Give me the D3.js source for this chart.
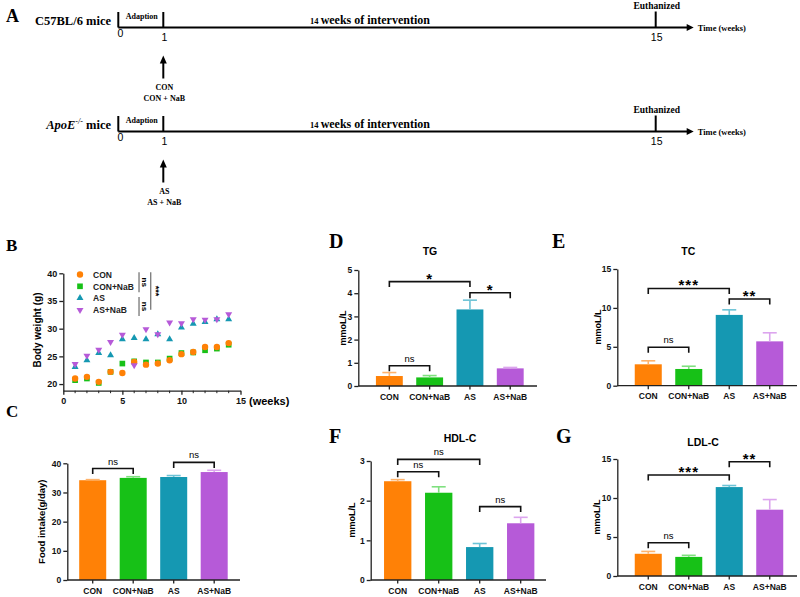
<!DOCTYPE html>
<html>
<head>
<meta charset="utf-8">
<script src="https://cdn.jsdelivr.net/npm/d3@7"></script>
<style>
  body { margin: 0; background: #fff; }
  svg { display: block; }
  .serif { font-family: "Liberation Serif", "Times New Roman", serif; font-weight: bold; }
  .sans { font-family: "Liberation Sans", Arial, sans-serif; }
</style>
</head>
<body>
<div id="main"></div>
<script>
// ---- data ----
const groups = ["CON", "CON+NaB", "AS", "AS+NaB"];
const groupColors = ["#FF8106", "#17C117", "#1598B2", "#B65AD8"];
const errColors = ["#FFB36B", "#7FE07F", "#6CC3D6", "#DCA5EE"];

const weeks = [1, 2, 3, 4, 5, 6, 7, 8, 9, 10, 11, 12, 13, 14];
const conWeight    = [21.0, 21.3, 20.4, 22.2, 22.0, 24.0, 23.5, 23.7, 24.3, 25.4, 25.8, 26.7, 26.7, 27.4];
const conNabWeight = [20.7, 21.0, 20.2, 22.2, 23.7, 24.1, 23.9, 23.9, 24.6, 25.6, 25.7, 26.1, 26.4, 27.1];
const asWeight     = [23.1, 24.3, 25.6, 25.2, 28.1, 28.3, 28.1, 29.0, 28.1, 30.2, 30.9, 31.2, 31.7, 31.7];
const asNabWeight  = [23.6, 25.1, 26.2, 27.6, 28.9, 23.4, 29.9, 29.0, 31.1, 31.0, 31.7, 31.6, 31.7, 32.6];

const foodMean = [34.2, 35.0, 35.3, 37.0];
const foodErr  = [0.2, 0.4, 0.5, 0.6];
const tgMean   = [0.43, 0.37, 3.3, 0.76];
const tgErr    = [0.15, 0.08, 0.4, 0.04];
const tcMean   = [2.75, 2.15, 9.1, 5.7];
const tcErr    = [0.45, 0.35, 0.65, 1.1];
const hdlMean  = [2.49, 2.2, 0.83, 1.43];
const hdlErr   = [0.04, 0.15, 0.09, 0.15];
const ldlMean  = [2.85, 2.45, 11.4, 8.5];
const ldlErr   = [0.3, 0.2, 0.2, 1.3];

// significance brackets: [from, to, level, label]
const foodSig = [[0, 1, 38.2, "ns"], [2, 3, 40.3, "ns"]];
const tgSig   = [[0, 2, 4.5, "*"], [2, 3, 4.02, "*"], [0, 1, 0.87, "ns"]];
const tcSig   = [[0, 2, 12.5, "***"], [2, 3, 11.15, "**"], [0, 1, 4.94, "ns"]];
const hdlSig  = [[0, 2, 3.04, "ns"], [0, 1, 2.73, "ns"], [2, 3, 1.85, "ns"]];
const ldlSig  = [[0, 2, 12.95, "***"], [2, 3, 14.65, "**"], [0, 1, 4.27, "ns"]];

const timelineWeeks = [0, 1, 15];

const svg = d3.select("#main").append("svg")
  .attr("width", 800).attr("height", 597)
  .style("background", "#fff");

// ---- panel letters ----
const letters = [["A", 6, 22, 18], ["B", 6, 251, 17], ["C", 6, 417, 17],
  ["D", 329, 248, 20], ["E", 552, 248, 20], ["F", 329, 443, 20], ["G", 556, 443, 20]];
svg.selectAll("text.letter").data(letters).join("text")
  .attr("class", "letter serif")
  .attr("x", d => d[1]).attr("y", d => d[2])
  .style("font-size", d => d[3] + "px")
  .text(d => d[0]);

// ---- A: timelines ----
const tx = d3.scaleLinear().domain([0, 1, 15]).range([118.3, 163.3, 655.7]);

function timeline(y0, name, italicPart, arrowLabels) {
  const g = svg.append("g");
  const lab = g.append("text").attr("class", "serif").attr("x", 111).attr("y", y0 - 3)
    .attr("text-anchor", "end").style("font-size", "12.5px");
  if (italicPart) {
    lab.append("tspan").style("font-style", "italic").text("ApoE");
    lab.append("tspan").attr("dy", -5).style("font-size", "8px").style("font-style", "italic")
      .style("font-weight", "normal").text("-/-");
    lab.append("tspan").attr("dy", 5).text(" mice");
  } else {
    lab.text(name);
  }
  g.append("line").attr("x1", tx(0)).attr("x2", tx(15) + 32).attr("y1", y0).attr("y2", y0)
    .attr("stroke", "#000").attr("stroke-width", 2);
  g.append("path")
    .attr("d", `M${tx(15) + 38},${y0} l-7,-3.5 l0,7 z`).attr("fill", "#000");
  g.selectAll("line.tk").data(timelineWeeks).join("line")
    .attr("x1", d => tx(d)).attr("x2", d => tx(d))
    .attr("y1", d => d === 15 ? y0 - 16 : y0 - 15.5).attr("y2", y0)
    .attr("stroke", "#000").attr("stroke-width", 2);
  g.selectAll("text.tn").data(timelineWeeks).join("text")
    .attr("class", "sans")
    .attr("x", d => d === 0 ? tx(d) + 2 : tx(d) + 1)
    .attr("y", d => d === 0 ? y0 + 9 : y0 + 13)
    .attr("text-anchor", "middle").style("font-size", "10.5px")
    .text(d => d);
  g.append("text").attr("class", "serif").attr("x", tx(0.5) + 1).attr("y", y0 - 8.5)
    .attr("text-anchor", "middle").style("font-size", "8px").text("Adaption");
  g.append("text").attr("class", "serif").attr("x", 310).attr("y", y0 - 4)
    .style("font-size", "12px")
    .call(t => {
      t.append("tspan").style("font-size", "8.5px").text("14 ");
      t.append("tspan").text(" weeks of intervention");
    });
  g.append("text").attr("class", "serif").attr("x", tx(15) + 1).attr("y", y0 - 19)
    .attr("text-anchor", "middle").style("font-size", "9.5px").text("Euthanized");
  g.append("text").attr("class", "serif").attr("x", tx(15) + 42).attr("y", y0 + 3)
    .style("font-size", "8.5px").text("Time (weeks)");
  g.append("line").attr("x1", tx(1)).attr("x2", tx(1)).attr("y1", y0 + 51).attr("y2", y0 + 34)
    .attr("stroke", "#000").attr("stroke-width", 2);
  g.append("path").attr("d", `M${tx(1)},${y0 + 28} l-3.5,8 l7,0 z`).attr("fill", "#000");
  g.selectAll("text.al").data(arrowLabels).join("text")
    .attr("class", "serif").attr("x", tx(1) + 1).attr("y", (d, i) => y0 + 62 + i * 11)
    .attr("text-anchor", "middle").style("font-size", "8px").text(d => d);
}
timeline(27.5, "C57BL/6 mice", false, ["CON", "CON + NaB"]);
timeline(131.5, null, true, ["AS", "AS + NaB"]);

// ---- helpers ----
function styleAxis(a, fs) {
  a.selectAll("path, line").attr("stroke", "#222").attr("stroke-width", 1.3);
  a.selectAll("text").attr("class", "sans").style("font-size", fs || "8.5px")
    .style("font-weight", "bold").attr("fill", "#111");
}

function rotLabel(x, y, txt, fs) {
  svg.append("text").attr("class", "sans")
    .attr("transform", `translate(${x},${y}) rotate(-90)`)
    .attr("text-anchor", "middle").attr("dy", "0.35em")
    .style("font-size", fs).style("font-weight", "bold").text(txt);
}

// ---- bar panels ----
function barPanel(o) {
  const x = d3.scaleBand().domain(groups).range(o.xr).paddingInner(0.333).paddingOuter(0.1667);
  const y = d3.scaleLinear().domain([0, o.max]).range(o.yr);
  const g = svg.append("g");
  const rows = groups.map((k, i) => ({ k, i, m: o.mean[i], e: o.err[i] }));

  g.selectAll("rect").data(rows).join("rect")
    .attr("x", d => x(d.k)).attr("y", d => y(d.m))
    .attr("width", x.bandwidth()).attr("height", d => y(0) - y(d.m))
    .attr("fill", d => groupColors[d.i]);
  // top-only error bars
  g.selectAll("line.eb").data(rows).join("line").attr("class", "eb")
    .attr("x1", d => x(d.k) + x.bandwidth() / 2).attr("x2", d => x(d.k) + x.bandwidth() / 2)
    .attr("y1", d => y(d.m)).attr("y2", d => y(d.m + d.e))
    .attr("stroke", d => errColors[d.i]).attr("stroke-width", 1.6);
  g.selectAll("line.cap").data(rows).join("line").attr("class", "cap")
    .attr("x1", d => x(d.k) + x.bandwidth() / 2 - 7).attr("x2", d => x(d.k) + x.bandwidth() / 2 + 7)
    .attr("y1", d => y(d.m + d.e)).attr("y2", d => y(d.m + d.e))
    .attr("stroke", d => errColors[d.i]).attr("stroke-width", 1.6);

  const ax = g.append("g").attr("transform", `translate(0,${y(0)})`)
    .call(d3.axisBottom(x).tickSize(3.5).tickSizeOuter(0).tickPadding(4));
  ax.select(".domain").attr("d", `M${o.axisX},0H${o.axisEnd}`);
  styleAxis(ax);
  const ay = g.append("g").attr("transform", `translate(${o.axisX},0)`)
    .call(d3.axisLeft(y).tickValues(o.ticks).tickFormat(d3.format("d"))
      .tickSize(4).tickSizeOuter(0).tickPadding(2));
  styleAxis(ay);

  // significance brackets
  const cx = i => x(groups[i]) + x.bandwidth() / 2;
  o.sig.forEach(([a, b, lv, lab]) => {
    const yy = y(lv);
    g.append("path")
      .attr("d", `M${cx(a)},${yy + 5.5}V${yy}H${cx(b)}V${yy + 5.5}`)
      .attr("fill", "none").attr("stroke", "#111").attr("stroke-width", 1.6);
    const star = lab.indexOf("*") >= 0;
    g.append("text").attr("class", "sans")
      .attr("x", (cx(a) + cx(b)) / 2).attr("y", star ? yy + 2 : yy - 4)
      .attr("text-anchor", "middle")
      .style("font-size", star ? "15px" : "9.5px")
      .style("font-weight", star ? "bold" : "normal")
      .style("letter-spacing", star ? "1px" : null)
      .text(lab);
  });

  if (o.title) {
    g.append("text").attr("class", "sans").attr("x", o.title[1]).attr("y", o.title[2])
      .attr("text-anchor", "middle").style("font-size", "10.5px").style("font-weight", "bold")
      .text(o.title[0]);
  }
  rotLabel(o.ylab[1], o.ylab[2], o.ylab[0], o.ylab[3]);
}

barPanel({ mean: foodMean, err: foodErr, max: 40, ticks: [0, 10, 20, 30, 40],
  xr: [72.45, 234.45], yr: [580, 463.3], axisX: 67.3, axisEnd: 240, sig: foodSig,
  ylab: ["Food intake(g/day)", 42, 521.7, "9.5px"] });
barPanel({ mean: tgMean, err: tgErr, max: 5, ticks: [0, 1, 2, 3, 4, 5],
  xr: [369.2, 530.4], yr: [386, 270], axisX: 358.3, axisEnd: 537, sig: tgSig,
  title: ["TG", 430, 255], ylab: ["mmoL/L", 343, 328, "9px"] });
barPanel({ mean: tcMean, err: tcErr, max: 15, ticks: [0, 5, 10, 15],
  xr: [628, 790], yr: [385.7, 269], axisX: 617.3, axisEnd: 797, sig: tcSig,
  title: ["TC", 688.3, 254.5], ylab: ["mmoL/L", 598.3, 327, "9px"] });
barPanel({ mean: hdlMean, err: hdlErr, max: 3, ticks: [0, 1, 2, 3],
  xr: [377.2, 541.2], yr: [580, 461], axisX: 370.7, axisEnd: 546, sig: hdlSig,
  title: ["HDL-C", 460, 441.5], ylab: ["mmoL/L", 351.7, 520, "9px"] });
barPanel({ mean: ldlMean, err: ldlErr, max: 15, ticks: [0, 5, 10, 15],
  xr: [628, 790], yr: [576, 459], axisX: 617.3, axisEnd: 797, sig: ldlSig,
  title: ["LDL-C", 703, 445.5], ylab: ["mmoL/L", 596.7, 517, "9px"] });

// ---- B: body weight ----
(function () {
  const x = d3.scaleLinear().domain([0, 15]).range([63.3, 240.5]);
  const y = d3.scaleLinear().domain([18.8, 40]).range([390.7, 273.3]);
  const g = svg.append("g");
  const series = [
    { name: "CON", vals: conWeight, sym: d3.symbolCircle, size: 32, rot: 0 },
    { name: "CON+NaB", vals: conNabWeight, sym: d3.symbolSquare, size: 32, rot: 0 },
    { name: "AS", vals: asWeight, sym: d3.symbolTriangle, size: 21, rot: 0 },
    { name: "AS+NaB", vals: asNabWeight, sym: d3.symbolTriangle, size: 21, rot: 180 }
  ];
  [1, 0, 2, 3].forEach(si => {
    const s = series[si];
    g.selectAll(null).data(weeks).join("path")
      .attr("d", d3.symbol().type(s.sym).size(s.size))
      .attr("transform", (d, i) => `translate(${x(d)},${y(s.vals[i])}) rotate(${s.rot})`)
      .attr("fill", groupColors[si]);
  });

  const ax = g.append("g").attr("transform", `translate(0,${y(18.8)})`)
    .call(d3.axisBottom(x).tickValues([0, 5, 10, 15]).tickSize(4).tickSizeOuter(0).tickPadding(3));
  styleAxis(ax, "9px");
  ax.append("g").selectAll("line").data(weeks.filter(w => w % 5 !== 0)).join("line")
    .attr("x1", d => x(d)).attr("x2", d => x(d)).attr("y1", 0).attr("y2", 2.5)
    .attr("stroke", "#222").attr("stroke-width", 1);
  const ay = g.append("g").attr("transform", `translate(${x(0)},0)`)
    .call(d3.axisLeft(y).tickValues([20, 25, 30, 35, 40]).tickSize(4).tickSizeOuter(0).tickPadding(2));
  styleAxis(ay, "9px");
  g.append("text").attr("class", "sans").attr("x", 249).attr("y", 405)
    .style("font-size", "11px").style("font-weight", "bold").text("(weeks)");
  rotLabel(37, 330, "Body weight (g)", "10px");

  // legend
  series.forEach((s, i) => {
    const ly = 274.5 + i * 11.8;
    g.append("path").attr("d", d3.symbol().type(s.sym).size(s.size)())
      .attr("transform", `translate(80,${ly}) rotate(${s.rot})`).attr("fill", groupColors[i]);
    g.append("text").attr("class", "sans").attr("x", 93).attr("y", ly + 3.2)
      .style("font-size", "8.5px").style("font-weight", "bold").attr("fill", "#222").text(s.name);
  });

  // significance marks
  const sigLines = [[6.41, 40.2, 36.6, "ns"], [6.41, 35.7, 32.3, "ns"], [7.4, 40.2, 33.4, "***"]];
  sigLines.forEach(([wx, y1, y2, lab]) => {
    g.append("line").attr("x1", x(wx)).attr("x2", x(wx)).attr("y1", y(y1)).attr("y2", y(y2))
      .attr("stroke", "#777").attr("stroke-width", 1.3);
    g.append("text").attr("class", "sans")
      .attr("transform", `translate(${x(wx) + 2.5},${(y(y1) + y(y2)) / 2}) rotate(90)`)
      .attr("text-anchor", "middle")
      .style("font-size", lab === "ns" ? "8px" : "9px").style("font-weight", "bold")
      .text(lab);
  });
})();
</script>
</body>
</html>
